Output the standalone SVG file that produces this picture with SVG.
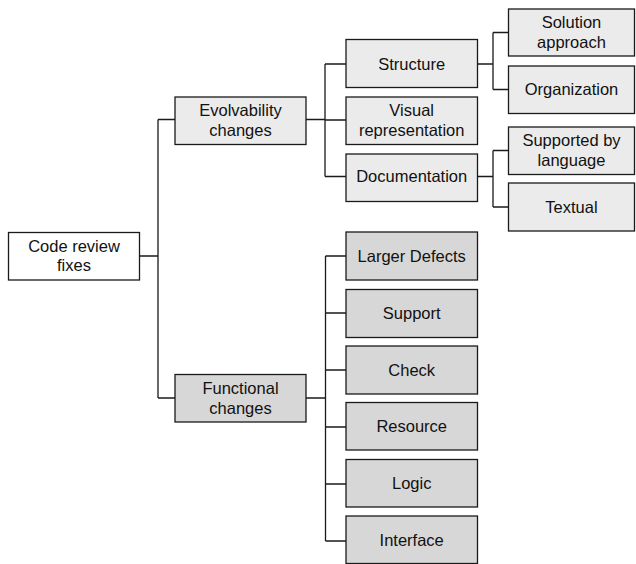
<svg xmlns="http://www.w3.org/2000/svg" width="636" height="564" viewBox="0 0 636 564">
<style>
.b{stroke:#1a1a1a;stroke-width:1.3}
.w{fill:#ffffff}
.l{fill:#ebebeb}
.d{fill:#d7d7d7}
text{font-family:"Liberation Sans",Arial,sans-serif;font-size:16.5px;fill:#111;text-anchor:middle}
.c{fill:none;stroke:#1a1a1a;stroke-width:1.3}
</style>
<rect width="636" height="564" fill="#ffffff"/>
<g id="connectors">
<path class="c" d="M139.5,256 H158 M158,119.5 V398 M158,119.5 H175 M158,398 H175"/>
<path class="c" d="M306,119.5 H325 M325,64 V176.5 M325,64 H346 M325,120 H346 M325,176.5 H346"/>
<path class="c" d="M477.5,64 H493 M493,32.5 V89.5 M493,32.5 H508.5 M493,89.5 H508.5"/>
<path class="c" d="M477.5,176.5 H493 M493,150.5 V207 M493,150.5 H508.5 M493,207 H508.5"/>
<path class="c" d="M306,398 H325.5 M325.5,256 V541 M325.5,256 H346 M325.5,313 H346 M325.5,370 H346 M325.5,427 H346 M325.5,484 H346 M325.5,541 H346"/>
</g>
<g id="root"><rect class="b w" x="8.5" y="232.5" width="131" height="47.5"/><text x="74" y="251.5">Code review</text><text x="74" y="271">fixes</text></g>
<g id="evolvability"><rect class="b l" x="175" y="97" width="131" height="47.5"/><text x="240.5" y="116">Evolvability</text><text x="240.5" y="136">changes</text></g>
<g id="functional"><rect class="b d" x="175" y="374.5" width="131" height="47.5"/><text x="240.5" y="393.5">Functional</text><text x="240.5" y="413.5">changes</text></g>
<g id="structure"><rect class="b l" x="346" y="39.5" width="131.5" height="48"/><text x="411.7" y="69.5">Structure</text></g>
<g id="visual"><rect class="b l" x="346" y="97" width="131.5" height="47.5"/><text x="411.7" y="116">Visual</text><text x="411.7" y="136">representation</text></g>
<g id="documentation"><rect class="b l" x="346" y="154" width="131.5" height="47.5"/><text x="411.7" y="182">Documentation</text></g>
<g id="solution"><rect class="b l" x="508.5" y="9" width="126" height="47"/><text x="571.5" y="28">Solution</text><text x="571.5" y="48">approach</text></g>
<g id="organization"><rect class="b l" x="508.5" y="66" width="126" height="47.5"/><text x="571.5" y="95">Organization</text></g>
<g id="supported"><rect class="b l" x="508.5" y="127" width="126" height="47.5"/><text x="571.5" y="146">Supported by</text><text x="571.5" y="166">language</text></g>
<g id="textual"><rect class="b l" x="508.5" y="183" width="126" height="48"/><text x="571.5" y="213">Textual</text></g>
<g id="larger"><rect class="b d" x="346" y="232" width="131.5" height="48"/><text x="411.7" y="261.5">Larger Defects</text></g>
<g id="support"><rect class="b d" x="346" y="289.5" width="131.5" height="48"/><text x="411.7" y="318.5">Support</text></g>
<g id="check"><rect class="b d" x="346" y="346" width="131.5" height="48"/><text x="411.7" y="375.5">Check</text></g>
<g id="resource"><rect class="b d" x="346" y="402.5" width="131.5" height="47.5"/><text x="411.7" y="432">Resource</text></g>
<g id="logic"><rect class="b d" x="346" y="459.5" width="131.5" height="47.5"/><text x="411.7" y="489">Logic</text></g>
<g id="interface"><rect class="b d" x="346" y="516" width="131.5" height="47.5"/><text x="411.7" y="546">Interface</text></g>
</svg>
